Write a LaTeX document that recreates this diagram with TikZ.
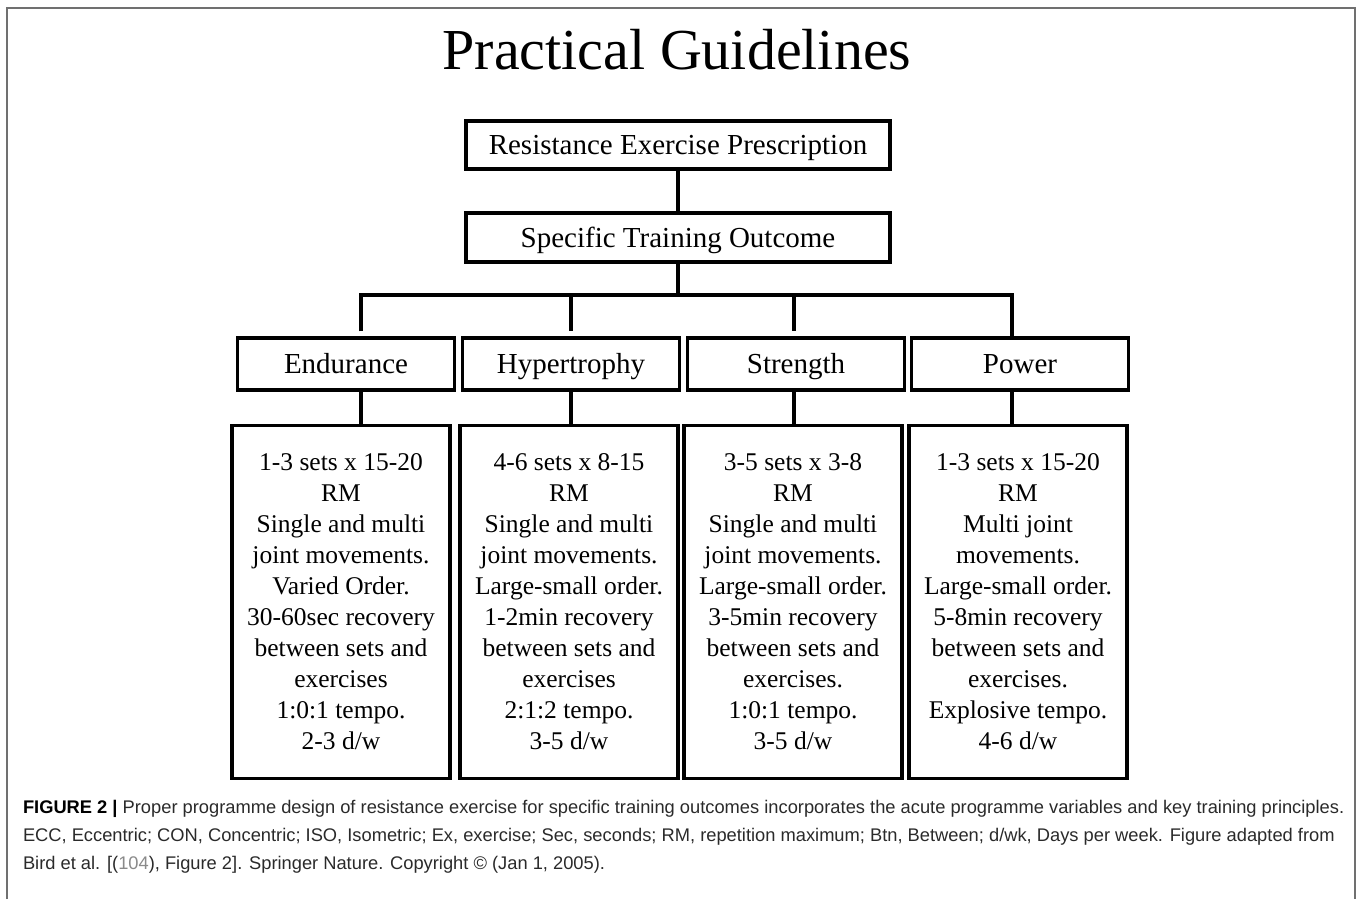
\documentclass[tikz,border=0pt]{standalone}
\usepackage{fontspec}
\setmainfont{Liberation Serif}
\newfontfamily\capfont{Liberation Sans}
\usepackage{xcolor}
\usetikzlibrary{positioning}
\usetikzlibrary{calc}
\usetikzlibrary{math}

\definecolor{framegray}{HTML}{707070}
\definecolor{refgray}{HTML}{8A8A8A}
\definecolor{captext}{HTML}{2A2A2A}

\begin{document}
\begin{tikzpicture}[x=0.5pt,y=-0.5pt,line width=2pt,
    box/.style={draw,line width=1.7pt,inner sep=0pt,align=center,
      text height=9.6pt,text depth=0pt,
      font=\fontsize{14.5}{17}\selectfont},
    detail/.style={draw,line width=1.7pt,inner sep=0pt,align=center,
      minimum width=109pt,minimum height=176.5pt,
      font=\fontsize{12.75}{15.5}\selectfont}]

  \tikzmath{
    \topw  = 424;  % width of the two upper boxes
    \catw  = 217;  % width of the outcome boxes
    \bary  = 295;  % height of the branching bar
    \caty  = 364;  % centre of the outcome boxes
    \dety  = 602;  % centre of the prescription boxes
  }

  \useasboundingbox (0,0) rectangle (1358,899);

  % outer frame, open at the bottom
  \draw[framegray,line width=1pt] (7,899) -- (7,8) -- (1355,8) -- (1355,899);

  % title
  \node[anchor=base,font=\fontsize{29}{34}\selectfont] (title) at (677,70)
    {Practical Guidelines};

  % upper boxes
  \node[box,minimum width={\topw*0.5pt},minimum height=24pt] (rep) at (678,145)
    {Resistance Exercise Prescription};
  \node[box,minimum width={\topw*0.5pt},minimum height=24.5pt] (out) at (678,237.5)
    {Specific Training Outcome};

  % branching points
  \coordinate (j1) at (361,\bary);
  \coordinate (j2) at (571,\bary);
  \coordinate (j3) at (794,\bary);
  \coordinate (j4) at (1012,\bary);

  % outcome boxes
  \node[box,minimum width={\catw*0.5pt},minimum height=26pt] (endu) at (346,\caty) {Endurance};
  \node[box,minimum width={\catw*0.5pt},minimum height=26pt] (hyp) at (571,\caty) {Hypertrophy};
  \node[box,minimum width={\catw*0.5pt},minimum height=26pt] (str) at (796,\caty) {Strength};
  \node[box,minimum width={\catw*0.5pt},minimum height=26pt] (pow) at (1020,\caty) {Power};

  % prescription boxes
  \node[detail] (endd) at (341,\dety) {1-3 sets x 15-20\\RM\\Single and multi\\joint movements.\\Varied Order.\\30-60sec recovery\\between sets and\\exercises\\1:0:1 tempo.\\2-3 d/w};
  \node[detail] (hypd) at (569,\dety) {4-6 sets x 8-15\\RM\\Single and multi\\joint movements.\\Large-small order.\\1-2min recovery\\between sets and\\exercises\\2:1:2 tempo.\\3-5 d/w};
  \node[detail] (strd) at (793,\dety) {3-5 sets x 3-8\\RM\\Single and multi\\joint movements.\\Large-small order.\\3-5min recovery\\between sets and\\exercises.\\1:0:1 tempo.\\3-5 d/w};
  \node[detail] (powd) at (1018,\dety) {1-3 sets x 15-20\\RM\\Multi joint\\movements.\\Large-small order.\\5-8min recovery\\between sets and\\exercises.\\Explosive tempo.\\4-6 d/w};

  % trunk and bar
  \draw (rep) -- (out);
  \draw (out.south) -- (out.south |- j1);
  \draw[shorten <=2.5pt] (j1 |- endu.north) -- (j1) -- (j4) -- (j4 |- pow.north);
  \draw[shorten >=2.5pt] (j2) -- (j2 |- hyp.north);
  \draw[shorten >=2.5pt] (j3) -- (j3 |- str.north);
  \draw[shorten >=2.5pt] (j4) -- (j4 |- pow.north);

  % outcome to prescription
  \draw (j1 |- endu.south) -- (j1 |- endd.north);
  \draw (j2 |- hyp.south) -- (j2 |- hypd.north);
  \draw (j3 |- str.south) -- (j3 |- strd.north);
  \draw (j4 |- pow.south) -- (j4 |- powd.north);

  % caption
  \node[anchor=north west,align=left,inner sep=0pt,text=captext,
    font=\capfont\fontsize{9.15}{14}\selectfont] (cap) at (21,798)
    {\textcolor{black}{\textbf{FIGURE 2 |}} Proper programme design of resistance exercise for specific training outcomes incorporates the acute programme variables and key training principles.\\
     ECC, Eccentric; CON, Concentric; ISO, Isometric; Ex, exercise; Sec, seconds; RM, repetition maximum; Btn, Between; d/wk, Days per week. Figure adapted from\\
     Bird et al. [(\textcolor{refgray}{104}), Figure 2]. Springer Nature. Copyright © (Jan 1, 2005).};

\end{tikzpicture}
\end{document}
